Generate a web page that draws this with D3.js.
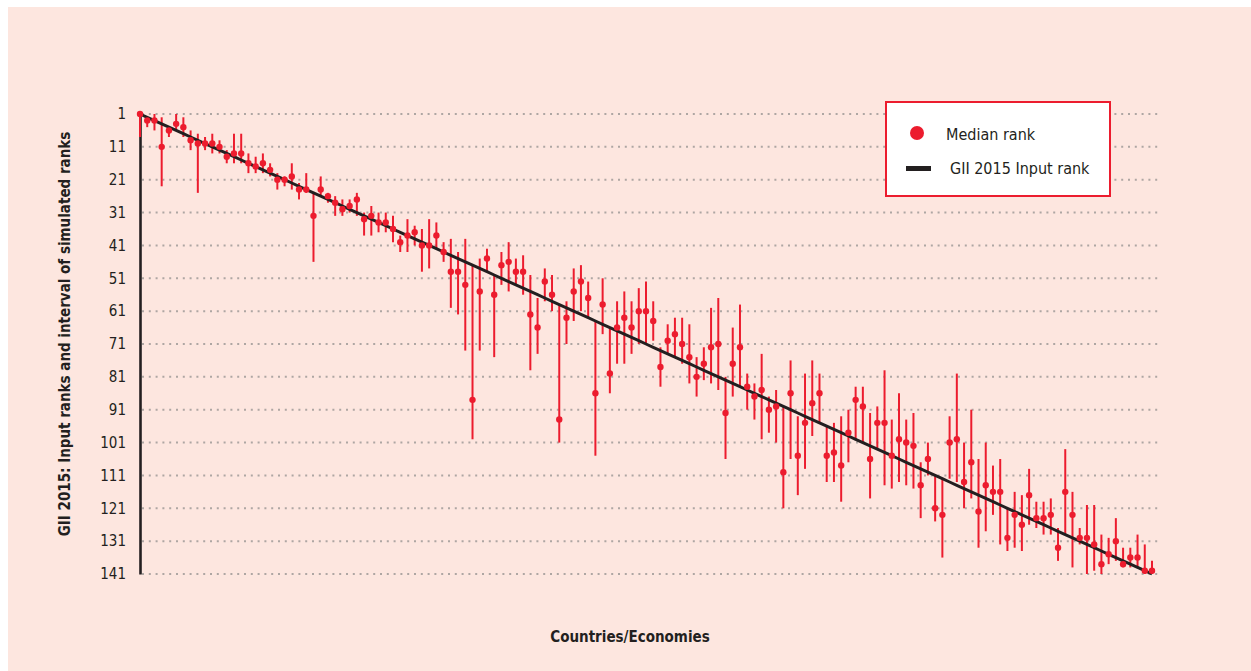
<!DOCTYPE html>
<html>
<head>
<meta charset="utf-8">
<script src="https://cdn.jsdelivr.net/npm/d3@7"></script>
<style>
  body { margin: 0; background: #ffffff; }
  svg { display: block; font-family: 'Liberation Sans Narrow', 'DejaVu Sans Condensed', sans-serif; }
</style>
</head>
<body>
<svg id="viz"></svg>
<script>
// median simulated rank per country (ordered by GII 2015 input rank)
const medianRank = [
  1, 3, 3, 11, 6, 4, 5, 9, 10, 10, 10, 11, 14, 13, 13, 16, 17, 16, 18, 21,
  21, 20, 24, 24, 32, 24, 26, 28, 30, 29, 27, 33, 32, 34, 34, 36, 40, 38, 37, 41,
  41, 38, 43, 49, 49, 53, 88, 55, 45, 56, 47, 46, 49, 49, 62, 66, 52, 56, 94, 63,
  55, 52, 57, 86, 59, 80, 66, 63, 66, 61, 61, 64, 78, 70, 68, 71, 75, 81, 77, 72,
  71, 92, 77, 72, 84, 87, 85, 91, 90, 110, 86, 105, 95, 89, 86, 105, 104, 108, 98, 88,
  90, 106, 95, 95, 105, 100, 101, 102, 114, 106, 121, 123, 101, 100, 113, 107, 122, 114, 116, 116,
  130, 123, 126, 117, 124, 124, 123, 133, 116, 123, 130, 130, 132, 138, 135, 131, 138, 136, 136, 140,
  140
]
// best simulated rank (top of interval)
const lowRank = [
  1, 2, 1, 2, 5, 1, 2, 6, 7, 8, 7, 9, 12, 7, 7, 13, 14, 13, 16, 19,
  20, 16, 22, 19, 25, 20, 25, 26, 27, 27, 25, 31, 29, 31, 31, 32, 38, 33, 35, 36,
  33, 34, 40, 39, 43, 39, 47, 45, 42, 50, 43, 40, 45, 44, 50, 57, 48, 50, 59, 58,
  48, 47, 52, 64, 51, 66, 58, 55, 58, 54, 52, 58, 72, 65, 63, 63, 65, 75, 72, 60,
  57, 81, 66, 59, 80, 83, 74, 87, 85, 90, 76, 93, 80, 76, 80, 96, 95, 93, 91, 84,
  84, 92, 90, 79, 94, 86, 94, 92, 107, 101, 111, 112, 93, 80, 101, 91, 106, 101, 108, 106,
  121, 116, 117, 109, 119, 119, 118, 127, 103, 116, 127, 120, 120, 129, 130, 124, 133, 133, 129, 132,
  137
]
// worst simulated rank (bottom of interval)
const highRank = [
  8, 5, 6, 23, 8, 6, 8, 12, 25, 12, 13, 13, 16, 16, 16, 19, 19, 19, 20, 24,
  23, 24, 27, 25, 46, 26, 28, 32, 32, 31, 32, 38, 38, 37, 37, 40, 43, 43, 41, 49,
  48, 42, 46, 60, 62, 73, 100, 73, 49, 75, 53, 55, 53, 56, 79, 74, 58, 61, 101, 71,
  64, 61, 63, 105, 68, 86, 77, 77, 74, 71, 71, 70, 84, 74, 75, 77, 83, 87, 82, 83,
  85, 106, 87, 84, 91, 94, 100, 98, 101, 121, 106, 117, 109, 99, 95, 113, 113, 119, 107, 100,
  101, 118, 103, 114, 115, 113, 114, 115, 124, 111, 125, 136, 112, 113, 121, 118, 133, 128, 123, 132,
  134, 133, 134, 126, 127, 129, 129, 137, 129, 139, 132, 141, 140, 141, 138, 137, 139, 139, 139, 141,
  141
]
const rankTicks = [1, 11, 21, 31, 41, 51, 61, 71, 81, 91, 101, 111, 121, 131, 141]

const width = 1251
const height = 671
const red = '#ec1c2e'
const dark = '#231f20'

const countries = medianRank.map((d, i) => ({
  input: i + 1,
  median: d,
  low: lowRank[i],
  high: highRank[i]
}))

const svg = d3.select('#viz').attr('width', width).attr('height', height)

// panel background
svg
  .append('rect')
  .attr('x', 8)
  .attr('y', 7)
  .attr('width', width - 8)
  .attr('height', height - 7)
  .attr('fill', '#fde6df')

const x = d3.scaleLinear().domain([1, countries.length]).range([140, 1152])
const y = d3.scaleLinear().domain([1, 141]).range([114, 574])

// dotted gridlines
svg
  .append('g')
  .attr('class', 'grid')
  .selectAll('line')
  .data(rankTicks)
  .join('line')
  .attr('x1', 142)
  .attr('x2', 1160)
  .attr('y1', (d) => y(d))
  .attr('y2', (d) => y(d))
  .attr('stroke', '#aea6a3')
  .attr('stroke-width', 2)
  .attr('stroke-dasharray', '2,4.8')

// y axis
const yAxis = svg
  .append('g')
  .attr('transform', 'translate(140,0)')
  .call(d3.axisLeft(y).tickValues(rankTicks).tickSize(0).tickPadding(14))

yAxis.select('.domain').attr('stroke', dark).attr('stroke-width', 2.6)
yAxis
  .selectAll('text')
  .attr('font-family', "'Liberation Sans Narrow', 'DejaVu Sans Condensed', sans-serif")
  .attr('font-size', 15)
  .attr('fill', dark)

// interval of simulated ranks
svg
  .append('g')
  .attr('class', 'intervals')
  .selectAll('line')
  .data(countries)
  .join('line')
  .attr('x1', (d) => x(d.input))
  .attr('x2', (d) => x(d.input))
  .attr('y1', (d) => y(d.low))
  .attr('y2', (d) => y(d.high))
  .attr('stroke', red)
  .attr('stroke-width', 2)

// GII 2015 input rank line
svg
  .append('path')
  .datum(countries)
  .attr('fill', 'none')
  .attr('stroke', dark)
  .attr('stroke-width', 3)
  .attr(
    'd',
    d3
      .line()
      .x((d) => x(d.input))
      .y((d) => y(d.input))
  )

// median rank dots
svg
  .append('g')
  .attr('class', 'medians')
  .selectAll('circle')
  .data(countries)
  .join('circle')
  .attr('cx', (d) => x(d.input))
  .attr('cy', (d) => y(d.median))
  .attr('r', 3.2)
  .attr('fill', red)

// axis titles
svg
  .append('text')
  .attr('transform', 'translate(70,334) rotate(-90)')
  .attr('text-anchor', 'middle')
  .attr('font-weight', 'bold')
  .attr('font-size', 15)
  .attr('fill', dark)
  .text('GII 2015: Input ranks  and interval of simulated ranks')

svg
  .append('text')
  .attr('x', 630)
  .attr('y', 642)
  .attr('text-anchor', 'middle')
  .attr('font-weight', 'bold')
  .attr('font-size', 15)
  .attr('fill', dark)
  .text('Countries/Economies')

// legend
const legend = svg.append('g').attr('transform', 'translate(886,102)')

legend
  .append('rect')
  .attr('width', 224)
  .attr('height', 94)
  .attr('fill', '#ffffff')
  .attr('stroke', red)
  .attr('stroke-width', 2)

legend
  .append('circle')
  .attr('cx', 31)
  .attr('cy', 31)
  .attr('r', 7)
  .attr('fill', red)

legend
  .append('text')
  .attr('x', 60)
  .attr('y', 38)
  .attr('font-size', 16)
  .attr('fill', dark)
  .text('Median rank')

legend
  .append('rect')
  .attr('x', 20)
  .attr('y', 64)
  .attr('width', 25)
  .attr('height', 5)
  .attr('fill', dark)

legend
  .append('text')
  .attr('x', 64)
  .attr('y', 72)
  .attr('font-size', 16)
  .attr('fill', dark)
  .text('GII 2015 Input rank')
</script>
</body>
</html>
